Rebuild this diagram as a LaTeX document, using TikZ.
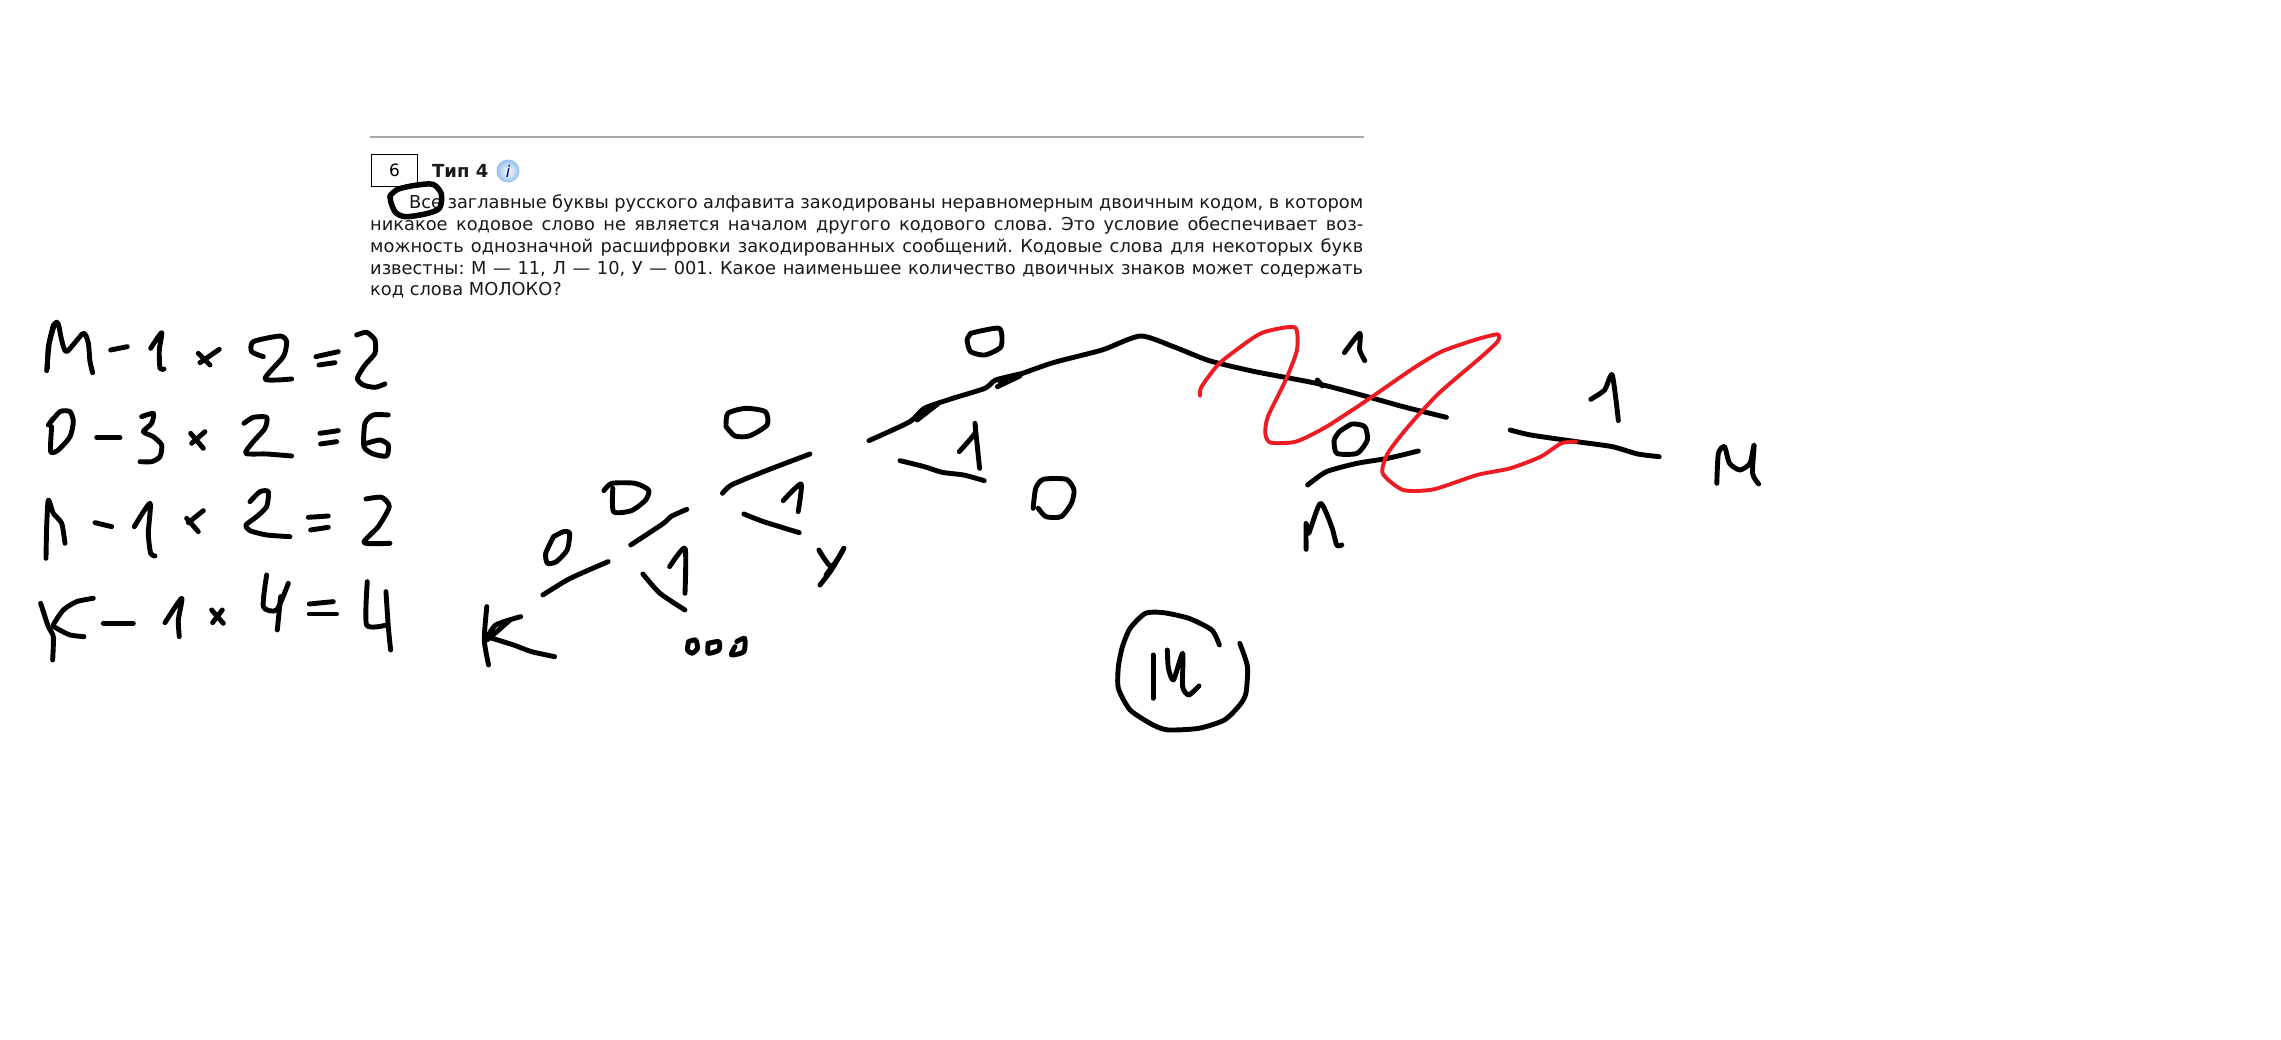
\documentclass[tikz,border=0pt]{standalone}
\usepackage{fontspec}
\setmainfont{DejaVu Sans}
\frenchspacing
\newcommand{\txtline}[1]{\hbox to 993pt{#1}}
\tikzset{
  ink/.style={draw=black,line width=4.9pt,line cap=round,line join=round},
  redink/.style={draw=inkred,line width=3.9pt,line cap=round,line join=round},
  printed/.style={anchor=west,inner sep=0pt,font=\fontsize{17.8pt}{20pt}\selectfont,text=black!90},
  zoomA/.style={xshift=20pt,yshift=-300pt,x=0.3333pt,y=-0.3333pt},
  zoomB/.style={xshift=460pt,yshift=-300pt,x=0.3571pt,y=-0.3333pt},
  zoomC/.style={xshift=1000pt,yshift=-300pt,x=0.5102pt,y=-0.3333pt},
  zoomD/.style={xshift=360pt,yshift=-120pt,x=0.6505pt,y=-0.3333pt},
}
\definecolor{inkred}{RGB}{237,28,36}
\definecolor{rulegray}{RGB}{170,170,170}
\definecolor{iconblue}{RGB}{150,190,240}
\newcommand{\st}[1]{\draw[ink] plot[smooth,tension=0.4] coordinates {#1};}
\begin{document}
\begin{tikzpicture}[x=1pt,y=-1pt]
\useasboundingbox[fill=white] (0,0) rectangle (2281,1039);
% printed task
\draw[rulegray,line width=1.6pt] (370,137) -- (1364,137);
\node[draw=black,line width=0.8pt,minimum width=46pt,minimum height=32pt,inner sep=0pt,font=\fontsize{17pt}{20pt}\selectfont] (num) at (394.5,170) {6};
\node[printed,font=\fontsize{18pt}{20pt}\selectfont\bfseries] (type) at (432,171) {Тип 4};
\shade[inner color=white,outer color=iconblue] (508,171) circle (11.5);
\node[inner sep=0pt,font=\fontsize{16pt}{18pt}\selectfont\itshape,text=blue!50!black] (info) at (508,171) {i};
\node[printed] (l1) at (370,203) {\txtline{\hspace*{39pt}Все заглавные буквы русского алфавита закодированы неравномерным двоичным кодом, в котором}};
\node[printed] (l2) at (370,225) {\txtline{никакое кодовое слово не является началом другого кодового слова. Это условие обеспечивает воз-}};
\node[printed] (l3) at (370,247) {\txtline{можность однозначной расшифровки закодированных сообщений. Кодовые слова для некоторых букв}};
\node[printed] (l4) at (370,269.5) {\txtline{известны: М — 11, Л — 10, У — 001. Какое наименьшее количество двоичных знаков может содержать}};
\node[printed] (l5) at (370,290) {код слова МОЛОКО?};
% blob around first word
\begin{scope}[zoomD]
\draw[ink,line width=5.5pt] plot[smooth,tension=0.5] coordinates {(46,228)(58,208)(85,196)(112,193)(125,222)(122,265)(100,282)(70,290)(55,278)(48,250)(46,228)};
\end{scope}
% left column
\begin{scope}[zoomA]
\st{(80,212)(88,130)(105,70)(115,72)(125,120)(140,155)(190,100)(205,130)(210,185)(218,218)}
\st{(100,75)(85,140)(82,205)}
\st{(272,150)(322,140)}
\st{(392,145)(425,98)(418,150)(420,205)(432,207)}
\st{(535,160)(570,195)} \st{(598,148)(540,188)}
\st{(730,170)(695,155)(700,125)(780,108)(800,125)(790,170)(735,237)(815,237)}
\st{(888,170)(955,155)} \st{(897,195)(945,188)}
\st{(1010,105)(1040,97)(1065,120)(1065,160)(1035,195)(1012,235)(1030,255)(1065,262)(1095,252)}
\st{(100,355)(85,375)(120,335)(150,335)(160,365)(150,410)(115,450)(92,455)(95,380)}
\st{(230,412)(300,412)}
\st{(365,350)(400,340)(395,370)(370,395)(400,410)(425,435)(420,470)(395,485)(360,485)}
\st{(512,400)(550,445)} \st{(555,395)(515,430)}
\st{(672,370)(700,352)(740,352)(735,385)(700,425)(677,460)(740,462)(815,468)}
\st{(900,400)(955,392)} \st{(902,432)(950,425)}
\st{(1105,345)(1060,345)(1035,370)(1032,440)(1060,462)(1100,468)(1105,435)(1080,420)(1040,430)}
\st{(78,775)(80,680)(85,600)(100,640)(125,670)(135,730)}
\st{(225,668)(275,680)}
\st{(343,680)(390,610)(385,700)(392,760)(405,768)}
\st{(500,655)(535,695)} \st{(550,632)(505,668)}
\st{(690,605)(720,575)(745,575)(740,620)(710,650)(678,675)(690,692)(740,705)(810,710)}
\st{(865,652)(925,648)} \st{(872,690)(925,682)}
\st{(1038,597)(1085,592)(1108,620)(1075,680)(1032,728)(1110,730)}
\st{(62,910)(85,980)(100,1010)(98,1080)}
\st{(220,895)(170,905)(130,930)(100,975)(110,985)(150,1005)(192,1010)}
\st{(250,970)(340,970)}
\st{(435,968)(485,895)(475,960)(478,1010)}
\st{(575,930)(610,970)} \st{(607,930)(578,968)}
\st{(740,825)(730,920)(770,930)(805,850)} \st{(782,890)(772,990)}
\st{(868,912)(940,905)} \st{(868,942)(950,942)}
\st{(1042,845)(1040,975)(1100,975)} \st{(1098,875)(1105,980)(1112,1050)}
\end{scope}
% tree, left part
\begin{scope}[zoomB]
\st{(262,710)(240,760)(245,790)(270,785)(300,750)(307,700)(290,695)(262,710)}
\st{(232,885)(300,840)(350,815)(415,785)}
\st{(403,572)(425,550)(490,550)(528,570)(520,600)(480,632)(430,635)(428,565)}
\st{(478,735)(570,670)(590,650)(635,628)}
\st{(587,800)(630,745)(630,880)}
\st{(512,822)(560,880)(630,930)}
\st{(745,380)(750,340)(800,325)(855,335)(860,375)(810,408)(770,408)(745,380)}
\st{(735,580)(760,555)(850,515)(980,462)}
\st{(905,602)(955,552)(947,635)}
\st{(795,642)(850,665)(950,698)}
\st{(1005,750)(1040,800)(1075,745)} \st{(1075,745)(1040,810)(1008,855)} \st{(1025,825)(1045,795)}
\st{(75,920)(68,1020)(80,1095)}
\st{(170,950)(100,975)(75,1020)(140,960)}
\st{(75,1010)(150,1035)(200,1055)(265,1070)}
\st{(640,1025)(660,1020)(665,1045)(650,1060)(637,1050)(640,1025)}
\st{(695,1030)(725,1025)(725,1050)(695,1060)(695,1030)}
\st{(775,1025)(797,1015)(795,1055)(760,1065)(770,1040)}
\st{(1145,422)(1260,365)(1300,325)(1380,295)(1470,265)(1500,240)(1568,222)}
\st{(1280,360)(1340,310)} \st{(1505,260)(1568,228)}
\st{(1430,100)(1510,85)(1515,140)(1470,165)(1430,155)(1420,120)(1430,100)}
\st{(1398,455)(1442,400)(1442,372)(1455,505)}
\st{(1232,482)(1300,500)(1350,517)(1410,525)(1468,542)}
\end{scope}
% tree, right part
\begin{scope}[zoomC]
\st{(0,245)(100,190)(200,150)(275,108)(340,140)(410,182)(500,215)(620,250)(720,290)(790,320)(875,352)}
\st{(622,240)(632,258)}
\st{(675,158)(705,100)(705,150)(715,182)}
\st{(665,395)(690,372)(715,380)(720,420)(700,460)(660,460)(655,420)(665,395)}
\st{(603,555)(640,515)(700,490)(760,475)(820,453)}
\st{(600,748)(600,670)(605,700)(628,610)(650,680)(660,735)(670,735)}
\st{(1000,390)(1040,405)(1130,425)(1200,440)(1250,462)(1292,470)}
\st{(1158,298)(1185,270)(1200,225)(1212,362)}
\st{(1405,550)(1408,460)(1420,440)(1430,490)(1450,510)(1470,490)(1478,435)(1475,520)(1487,552)}
\st{(65,625)(70,565)(85,538)(130,538)(145,570)(140,610)(120,650)(90,650)(75,625)}
\st{(430,1035)(415,990)(370,955)(320,938)(285,940)(255,985)(240,1040)(232,1100)(232,1165)(255,1230)(300,1275)(330,1290)(390,1285)(440,1260)(470,1215)(482,1180)(485,1100)(470,1030)}
\st{(300,1065)(300,1195)}
\st{(328,1050)(330,1105)(340,1140)(358,1060)(358,1160)(370,1185)(390,1158)}
\draw[redink] plot[smooth,tension=0.4] coordinates {(392,288)(395,260)(430,190)(490,120)(520,95)(578,82)(582,150)(560,240)(525,350)(520,400)(530,428)(580,425)(640,380)(720,300)(810,205)(865,155)(930,120)(975,103)(975,125)(940,175)(860,280)(800,380)(760,460)(750,520)(790,570)(850,568)(935,525)(1000,505)(1060,470)(1100,430)(1130,425)};
\end{scope}
\end{tikzpicture}
\end{document}
